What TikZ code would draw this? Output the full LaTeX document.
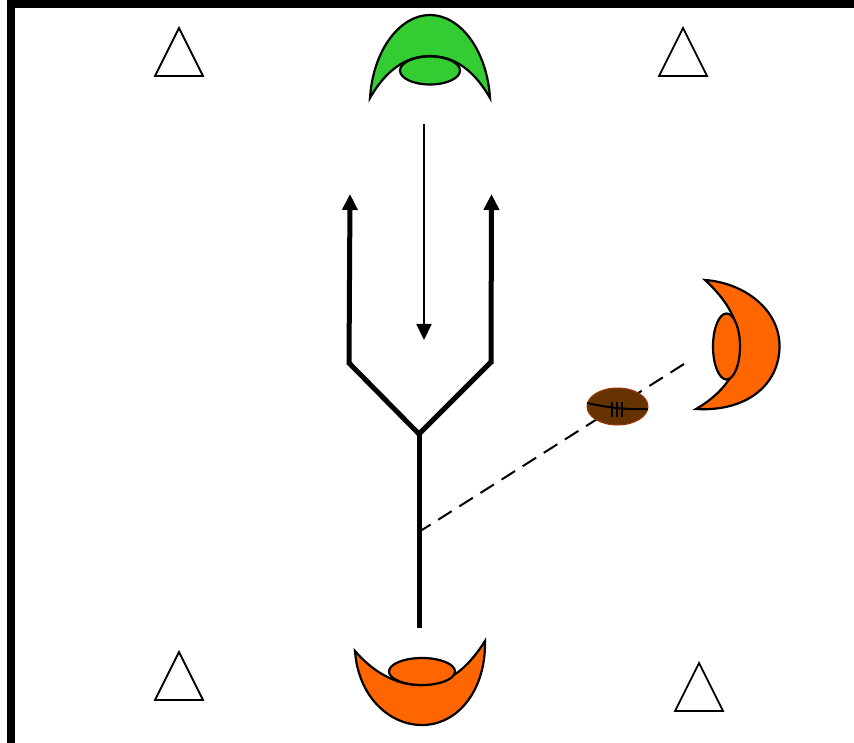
\documentclass[tikz,border=0pt]{standalone}
\usetikzlibrary{arrows.meta}
\definecolor{pgreen}{RGB}{51,204,51}
\definecolor{porange}{RGB}{255,102,0}
\definecolor{ballfill}{RGB}{102,51,0}
\definecolor{balledge}{RGB}{153,51,0}
\tikzset{
  player/.style={draw=black,line width=2.2pt,line join=miter},
  cone/.style={draw=black,line width=1.8pt,fill=white,line join=miter},
  run/.style={draw=black,line width=5pt,line cap=butt},
  runtip/.style={-{Triangle[length=16pt,width=15pt]}},
  frame/.style={draw=black,line width=8pt},
}
\begin{document}
\begin{tikzpicture}[x=1pt,y=-1pt]
\useasboundingbox (0,0) rectangle (854,743);
\fill[white] (0,0) rectangle (854,743);
% frame
\draw[frame] (11,743) -- (11,4) -- (854,4);
% cones
\draw[cone] (179,28) -- (155,76) -- (203,76) -- cycle;
\draw[cone] (683,28) -- (659,76) -- (707,76) -- cycle;
\draw[cone] (179,652) -- (155,700) -- (203,700) -- cycle;
\draw[cone] (699,663) -- (675,711) -- (723,711) -- cycle;
% green player
\draw[player,fill=pgreen] (370,98) .. controls (373,50) and (400,15) .. (430,15)
  .. controls (460,15) and (487,50) .. (490,98)
  .. controls (474,70) and (454,56) .. (430,56)
  .. controls (406,56) and (386,70) .. (370,98) -- cycle;
\draw[player,fill=pgreen] (430,70.5) ellipse [x radius=30,y radius=14];
% orange player right
\draw[player,fill=porange] (705,280) .. controls (745,283) and (779.5,310) .. (779.5,346)
  .. controls (779.5,386) and (745,412) .. (696,409)
  .. controls (722,394) and (739.5,372) .. (739.5,346)
  .. controls (739.5,322) and (727,300) .. (705,280) -- cycle;
\draw[player,fill=porange] (726.5,346.5) ellipse [x radius=13.5,y radius=33];
% orange player bottom
\draw[player,fill=porange] (355,651) .. controls (358,695) and (388,725) .. (422,725)
  .. controls (458,725) and (486,690) .. (485,641)
  .. controls (468,668) and (448,685) .. (420,685)
  .. controls (396,685) and (373,672) .. (355,651) -- cycle;
\draw[player,fill=porange] (422,671.5) ellipse [x radius=33,y radius=13.5];
% pass line
\draw[black,line width=2pt,dash pattern=on 16pt off 9pt] (684,364) -- (422,530);
% ball
\draw[balledge,line width=1pt,fill=ballfill] (617.5,406.5) ellipse [x radius=30.5,y radius=18.5];
\draw[black,line width=2pt] (587,403) .. controls (605,407) and (625,410) .. (648,409);
\draw[black,line width=2pt] (612,402) -- (612,417) (617,402) -- (617,417) (622,402) -- (622,417);
% run lines
\draw[run] (419,628) -- (419,434);
\draw[run,line join=miter] (349,363) -- (419,434) -- (491,362);
\draw[run,runtip] (349,365) -- (350,194);
\draw[run,runtip] (491,364) -- (491.5,194);
% thin arrow
\draw[black,line width=2pt,-{Triangle[length=16pt,width=15pt]}] (424,124) -- (424,340);
\end{tikzpicture}
\end{document}
